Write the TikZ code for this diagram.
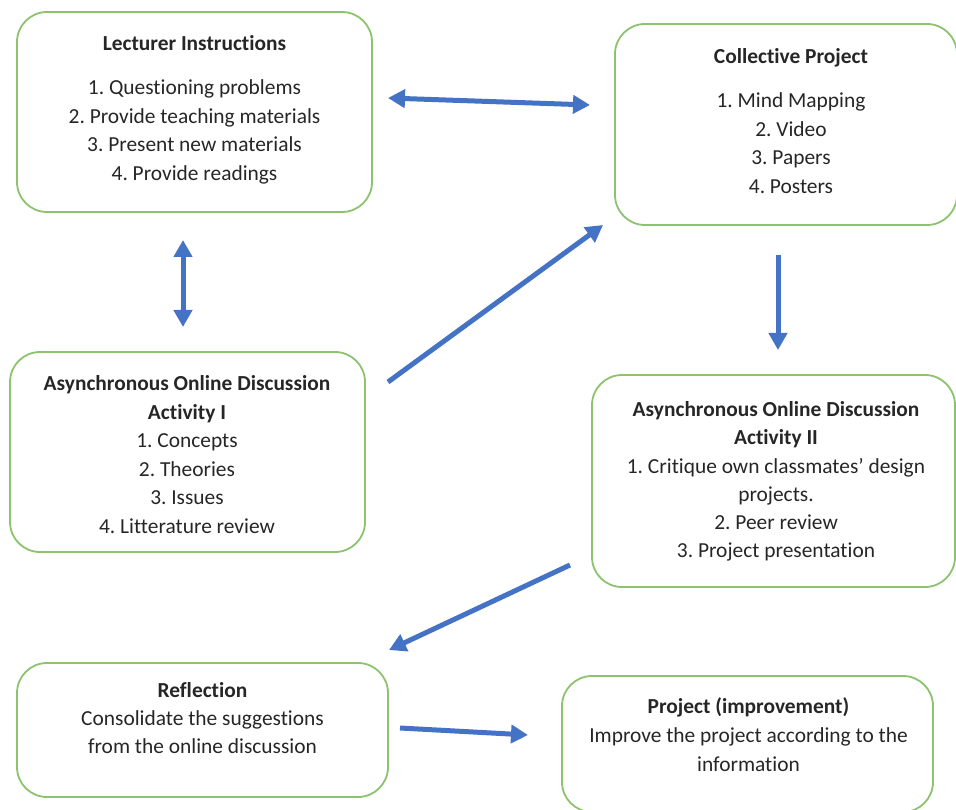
\documentclass[tikz,border=0pt]{standalone}
\usepackage{fontspec}
\setmainfont[RawFeature=-liga]{Carlito}
\frenchspacing
\usetikzlibrary{arrows.meta}
\definecolor{boxgreen}{HTML}{8DC26F}
\definecolor{arrblue}{HTML}{4472C4}
\definecolor{txtc}{HTML}{262626}
\begin{document}
\begin{tikzpicture}[x=1pt,y=-1pt,
 box/.style={draw=boxgreen, line width=1.8pt, rounded corners=30pt, inner sep=0pt},
 txt/.style={anchor=north, align=center, inner sep=0pt, text=txtc, font=\fontsize{21.4}{28.5}\selectfont\frenchspacing},
 arr/.style={draw=arrblue, line width=5pt, -{Triangle[length=17pt,width=18pt]}},
 darr/.style={draw=arrblue, line width=5pt, {Triangle[length=17pt,width=18pt]}-{Triangle[length=17pt,width=18pt]}}]
\useasboundingbox (0,0) rectangle (956,810);

% boxes
\node[box, minimum width=355pt, minimum height=200pt] (lect) at (194.5,112) {};
\node[box, minimum width=342pt, minimum height=201pt] (coll) at (786,124.5) {};
\node[box, minimum width=355pt, minimum height=200pt] (asyncA) at (187.5,452) {};
\node[box, minimum width=363pt, minimum height=212pt] (asyncB) at (773.5,481) {};
\node[box, minimum width=371pt, minimum height=134pt] (refl) at (202.5,730) {};
\node[box, minimum width=371pt, minimum height=136pt] (proj) at (747.5,744) {};

% texts
\node[txt] (lectT) at (194.5,35.5) {\textbf{Lecturer Instructions}\\[15.5pt] 1. Questioning problems\\ 2. Provide teaching materials\\ 3. Present new materials\\ 4. Provide readings};
\node[txt] (collT) at (791,48.5) {\textbf{Collective Project}\\[15.5pt] 1. Mind Mapping\\ 2. Video\\ 3. Papers\\ 4. Posters};
\node[txt] (asyncAT) at (187,375.5) {\textbf{Asynchronous Online Discussion}\\ \textbf{Activity I}\\ 1. Concepts\\ 2. Theories\\ 3. Issues\\ 4. Litterature review};
\node[txt, font=\fontsize{21.4}{28.2}\selectfont\frenchspacing] (asyncBT) at (776,401.5) {\textbf{Asynchronous Online Discussion}\\ \textbf{Activity II}\\ 1. Critique own classmates’ design\\ projects.\\ 2. Peer review\\ 3. Project presentation};
\node[txt, font=\fontsize{21.4}{28}\selectfont\frenchspacing] (reflT) at (202.5,682.5) {\textbf{Reflection}\\ Consolidate the suggestions\\ from the online discussion};
\node[txt, font=\fontsize{21.4}{29}\selectfont\frenchspacing] (projT) at (748.5,697) {\textbf{Project (improvement)}\\ Improve the project according to the\\ information};

% connector end points
\coordinate (h1) at (388,98);
\coordinate (h2) at (590,105);
\coordinate (v1) at (183,240);
\coordinate (v2) at (183,327);
\coordinate (d1) at (388,382);
\coordinate (d2) at (603,225);
\coordinate (c1) at (778,255);
\coordinate (c2) at (778,350);
\coordinate (e1) at (570,565);
\coordinate (e2) at (389,650);
\coordinate (f1) at (400,728);
\coordinate (f2) at (528,735);

\draw[darr] (h1) -- (h2);
\draw[darr] (v1) -- (v2);
\draw[arr] (d1) -- (d2);
\draw[arr] (c1) -- (c2);
\draw[arr] (e1) -- (e2);
\draw[arr] (f1) -- (f2);
\end{tikzpicture}
\end{document}
